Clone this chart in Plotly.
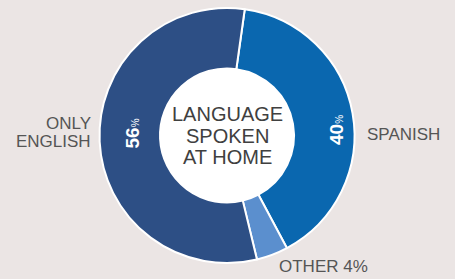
import plotly.graph_objects as go

categories = ["SPANISH", "OTHER", "ONLY ENGLISH"]
values = [40, 4, 56]
colors = ["#0a67af", "#5b8fce", "#2d4f85"]
center_lines = ["LANGUAGE", "SPOKEN", "AT HOME"]

W, H = 455, 279
cx, cy, R, r_in = 227, 135.5, 127.5, 67

def px(x):
    return x / W

def py(y):
    return (H - y) / H

fig = go.Figure()
fig.add_trace(go.Pie(
    labels=categories, values=values, sort=False, direction="clockwise",
    rotation=8, hole=r_in / R,
    marker=dict(colors=colors, line=dict(color="white", width=2)),
    textinfo="none", hoverinfo="label+percent", showlegend=False,
    domain=dict(x=[px(cx - R), px(cx + R)], y=[py(cy + R), py(cy - R)]),
))

fig.add_shape(type="circle", xref="paper", yref="paper", layer="below",
              x0=px(cx - r_in), x1=px(cx + r_in), y0=py(cy + r_in), y1=py(cy - r_in),
              fillcolor="white", line=dict(width=0))

font_fam = "Liberation Sans, Arial, sans-serif"
grey = "#555555"

for line, yc in zip(center_lines, [114, 135.5, 157.5]):
    fig.add_annotation(x=px(cx), y=py(yc), xref="paper", yref="paper", text=line,
                       showarrow=False, xanchor="center", yanchor="middle",
                       font=dict(family=font_fam, size=20, color="#404040"))

# outside labels
fig.add_annotation(x=px(93), y=py(123.5), xref="paper", yref="paper", text="ONLY",
                   showarrow=False, xanchor="right", yanchor="middle",
                   font=dict(family=font_fam, size=17, color=grey))
fig.add_annotation(x=px(93), y=py(142), xref="paper", yref="paper", text="ENGLISH",
                   showarrow=False, xanchor="right", yanchor="middle",
                   font=dict(family=font_fam, size=17, color=grey))
fig.add_annotation(x=px(365), y=py(134), xref="paper", yref="paper", text=categories[0],
                   showarrow=False, xanchor="left", yanchor="middle",
                   font=dict(family=font_fam, size=17, color=grey))
fig.add_annotation(x=px(323), y=py(266.5), xref="paper", yref="paper",
                   text=f"{categories[1]} {values[1]}%",
                   showarrow=False, xanchor="center", yanchor="middle",
                   font=dict(family=font_fam, size=17, color=grey))

# percentage labels inside ring
for val, (xc, yc) in zip([values[2], values[0]], [(131.5, 134), (336, 130)]):
    fig.add_annotation(x=px(xc), y=py(yc), xref="paper", yref="paper",
                       text=f"<b>{val}</b><span style='font-size:10px'>%</span>",
                       textangle=-90, showarrow=False, xanchor="center", yanchor="middle",
                       font=dict(family=font_fam, size=19, color="white"))

fig.update_layout(width=W, height=H, margin=dict(l=0, r=0, t=0, b=0),
                  paper_bgcolor="#ebe5e4", plot_bgcolor="#ebe5e4")
fig.write_html("out.html", config={"displayModeBar": False},
               post_script="document.body.style.margin='0';document.body.style.background='#ebe5e4';")
